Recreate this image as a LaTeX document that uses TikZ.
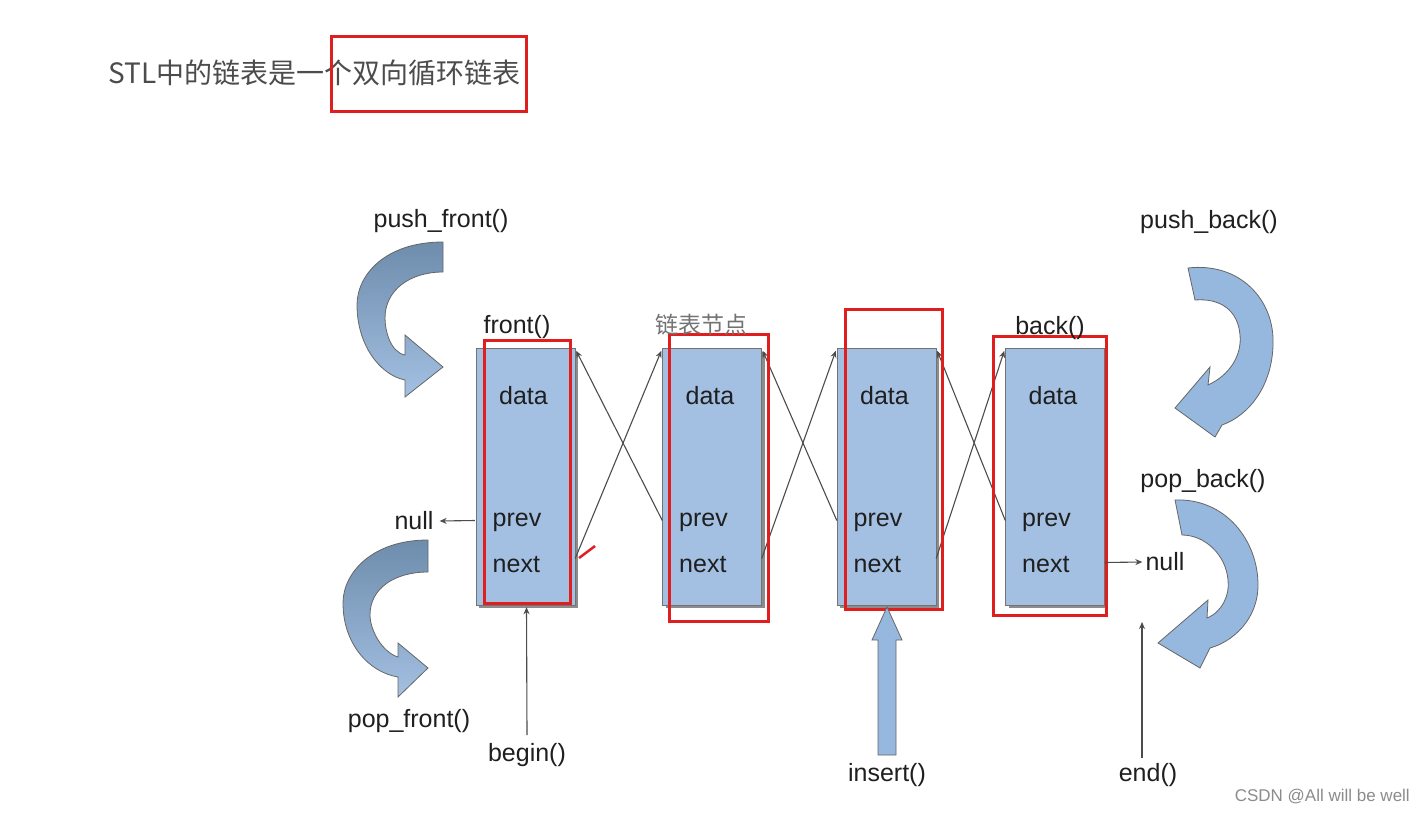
\documentclass[tikz,border=0pt]{standalone}
\usepackage{fontspec}
\setmainfont{Liberation Sans}
\newfontfamily\cjk{Noto Sans CJK SC}
\usetikzlibrary{arrows.meta,calc}
\definecolor{redc}{RGB}{225,30,30}
\definecolor{cellc}{RGB}{163,192,226}
\definecolor{arrc}{RGB}{150,184,222}
\definecolor{darkc}{RGB}{110,140,172}
\begin{document}
\begin{tikzpicture}[x=1pt,y=-1pt,
  lbl/.style={font=\fontsize{25}{28}\selectfont, text=black!88, inner sep=0pt},
  cell/.style={draw=black!55, fill=cellc, minimum width=99pt, minimum height=257pt, inner sep=0pt},
  redbox/.style={draw=redc, line width=3pt},
  link/.style={draw=black!70, line width=1.1pt, -{Stealth[length=7pt,width=6pt]}},
  bigarrow/.style={draw=black!60, line width=0.8pt, fill=arrc},
  darkarrow/.style={draw=black!60, line width=0.8pt, top color=darkc, bottom color=cellc}]
\useasboundingbox (0,0) rectangle (1424,813);
\fill[white] (0,0) rectangle (1424,813);
% title
\node[anchor=west, inner sep=0pt, text=black!70, font=\cjk\fontsize{28}{32}\selectfont] (title) at (108,73) {STL中的链表是一个双向循环链表};
\node[redbox, minimum width=195pt, minimum height=75pt, inner sep=0pt] (tbox) at (428.5,74.5) {};
% boxes
\foreach \n/\x in {1/525.5,2/712,3/886.5,4/1055}{
  \fill[black!45] (\x-49.5+3,352) rectangle (\x+49.5+3,608);
  \node[cell] (b\n) at (\x,476.5) {};
  \node[lbl] (d\n) at (\x-2,396) {data};
  \node[lbl, anchor=west] (p\n) at (\x-33,522) {prev};
  \node[lbl, anchor=west] (n\n) at (\x-33,565) {next};
}
% links
\foreach \i/\j in {1/2,2/3,3/4}{
  \coordinate (pa\j) at ($(b\j.west)+(0,44)$);
  \coordinate (nb\i) at ($(b\i.east)+(0,82)$);
  \draw[link] (pa\j) -- ($(b\i.north east)+(1,3)$);
  \draw[link] (nb\i) -- ($(b\j.north west)+(-1,3)$);
}
% red boxes
\draw[redbox] (484,340) rectangle (570,603);
\draw[redbox] (669,334) rectangle (768,621);
\draw[redbox] (845,309) rectangle (942,609);
\draw[redbox] (993,336) rectangle (1106,615);
\draw[redc, line width=2.5pt] (579,558) -- (595,546);
% labels
\node[lbl] (front) at (517,327) {front()};
\node[lbl, text=black!55, font=\cjk\fontsize{23}{26}\selectfont] (node) at (701,325) {链表节点};
\node[lbl] (back) at (1050,328) {back()};
\node[lbl] (pf) at (441,221) {push\_front()};
\node[lbl] (pb) at (1209,222) {push\_back()};
\node[lbl] (pob) at (1203,481) {pop\_back()};
\node[lbl] (pof) at (409,721) {pop\_front()};
\node[lbl] (beg) at (527,755) {begin()};
\node[lbl] (ins) at (887,775) {insert()};
\node[lbl] (endl) at (1148,775) {end()};
\node[lbl] (nl) at (414,521) {null};
\node[lbl] (nr) at (1165,562) {null};
% null / begin / end arrows
\draw[link] ($(b1.west)+(-1,44)$) -- ($(nl.east)+(6,0)$);
\draw[link] ($(b4.east)+(0,86)$) -- ($(nr.west)+(-3,0)$);
\draw[link] ($(beg.north)+(0,-8)$) -- ($(b1.south)+(1,2)$);
\coordinate (endtop) at (1142,622);
\draw[link] ($(endl.north)+(-6,-5)$) -- (endtop);
% insert block arrow
\draw[bigarrow] (878,755) -- (878,640) -- (872,640) -- (887,607) -- (902,640) -- (896,640) -- (896,755) -- cycle;
% push_front
\draw[darkarrow] (443,242) .. controls (385,242) and (357,275) .. (357,305) .. controls (357,345) and (380,375) .. (405,380) -- (405,397) -- (443,367) -- (405,335) -- (405,355) .. controls (390,352) and (385,330) .. (385,318) .. controls (385,290) and (410,272) .. (443,272) -- cycle;
% pop_front
\draw[darkarrow] (428,540) .. controls (372,540) and (343,573) .. (343,603) .. controls (343,643) and (368,672) .. (398,677) -- (398,697) -- (428,668) -- (398,643) -- (398,657) .. controls (382,652) and (370,630) .. (370,615) .. controls (370,588) and (395,572) .. (428,572) -- cycle;
% push_back
\draw[bigarrow] (1188,268) .. controls (1240,262) and (1275,300) .. (1273,345) .. controls (1272,385) and (1250,415) .. (1222,425) -- (1215,437) -- (1175,408) -- (1210,367) -- (1208,385) .. controls (1230,375) and (1242,355) .. (1240,335) .. controls (1238,310) and (1220,298) .. (1195,300) -- cycle;
% pop_back
\draw[bigarrow] (1175,500) .. controls (1225,498) and (1258,540) .. (1258,585) .. controls (1258,620) and (1232,642) .. (1210,648) -- (1200,668) -- (1158,643) -- (1208,600) -- (1207,618) .. controls (1222,612) and (1230,595) .. (1228,580) .. controls (1226,555) and (1205,535) .. (1182,535) -- cycle;
% watermark
\node[anchor=east, inner sep=0pt, text=black!45, font=\fontsize{17}{19}\selectfont] (wm) at (1410,797) {CSDN @All will be well};
\end{tikzpicture}
\end{document}
